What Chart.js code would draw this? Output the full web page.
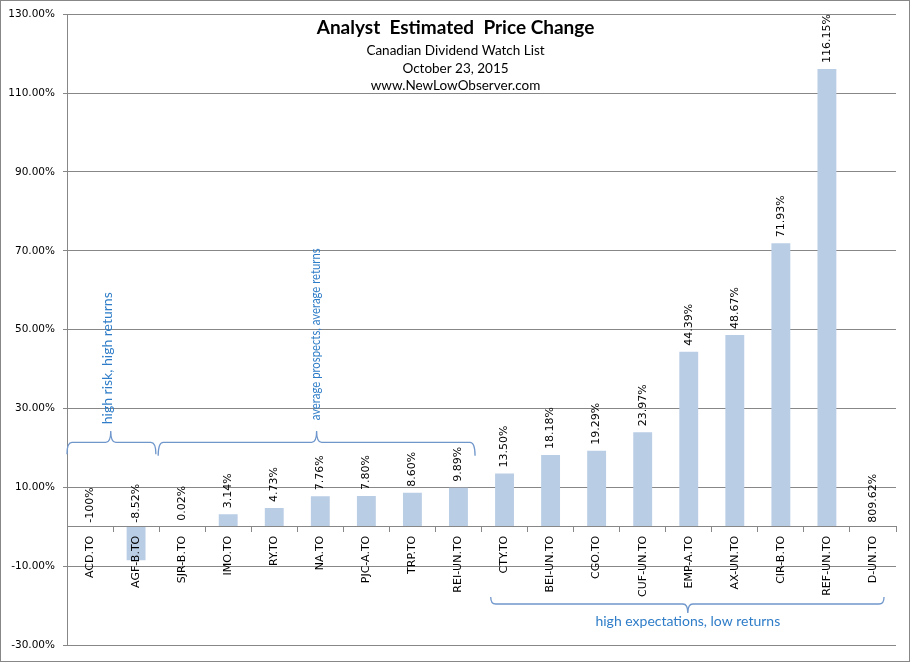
<!DOCTYPE html>
<html>
<head>
<meta charset="utf-8">
<script src="https://cdn.jsdelivr.net/npm/chart.js@4.4.0/dist/chart.umd.min.js"></script>
<style>
  html, body { margin: 0; padding: 0; background: #fff; }
</style>
</head>
<body>
<canvas id="myChart" width="911" height="662"></canvas>
<script>
const tickers = [
  "ACD.TO", "AGF-B.TO", "SJR-B.TO", "IMO.TO", "RY.TO", "NA.TO", "PJC-A.TO", "TRP.TO", "REI-UN.TO",
  "CTY.TO", "BEI-UN.TO", "CGO.TO", "CUF-UN.TO", "EMP-A.TO", "AX-UN.TO", "CIR-B.TO", "REF-UN.TO", "D-UN.TO",
];
// ACD.TO and D-UN.TO have no bar drawn in the original, only their label
const priceChange = [
  null, -8.52, 0.02, 3.14, 4.73, 7.76, 7.8, 8.6, 9.89,
  13.5, 18.18, 19.29, 23.97, 44.39, 48.67, 71.93, 116.15, null,
];
const valueLabels = [
  "-100%", "-8.52%", "0.02%", "3.14%", "4.73%", "7.76%", "7.80%", "8.60%", "9.89%",
  "13.50%", "18.18%", "19.29%", "23.97%", "44.39%", "48.67%", "71.93%", "116.15%", "809.62%",
];
const yMin = -30;
const yMax = 130;
const yStep = 20;

const titleLines = ["Canadian Dividend Watch List", "October 23, 2015", "www.NewLowObserver.com"];

const gridColor = "#878787";
const noteColor = "#2f7dc8";
const braceColor = "#7097cc";
const yFont = { family: "DejaVu Sans", size: 10.5 };
const xFont = { family: "DejaVu Sans", size: 11 };

// group braces, in category units (from/to/mid) and axis % units (line/end/tip/textAt)
const groups = [
  { text: "high risk, high returns", from: -0.5, to: 1.43, mid: 0.45, line: 21.4, end: 18.4, tip: 24.3, textAt: 26.0, shift: -3.7, fit: 132, vertical: true },
  { text: "average prospects, average returns", from: 1.48, to: 8.36, mid: 4.92, line: 21.4, end: 18.0, tip: 24.3, textAt: 27.0, shift: -0.7, fit: 172, vertical: true },
  { text: "high expectations, low returns", from: 8.7, to: 17.24, mid: 12.98, line: -19.6, end: -17.8, tip: -21.9, textAt: -25.2, shift: 0, fit: 190, vertical: false },
];

const drawBrace = (ctx, x0, x1, xm, yl, ye, yt) => {
  const r = 5;
  ctx.beginPath();
  ctx.moveTo(x0, ye);
  ctx.quadraticCurveTo(x0, yl, x0 + r, yl);
  ctx.lineTo(xm - r, yl);
  ctx.quadraticCurveTo(xm, yl, xm, yt);
  ctx.quadraticCurveTo(xm, yl, xm + r, yl);
  ctx.lineTo(x1 - r, yl);
  ctx.quadraticCurveTo(x1, yl, x1, ye);
  ctx.stroke();
};

const extras = {
  id: "extras",
  afterDraw(chart) {
    const { ctx, scales } = chart;
    const x = scales.x;
    const y = scales.y;
    const zeroY = y.getPixelForValue(0);

    // value labels, rotated
    ctx.save();
    ctx.fillStyle = "#000";
    ctx.font = xFont.size + "px " + xFont.family;
    ctx.textAlign = "left";
    ctx.textBaseline = "middle";
    valueLabels.forEach((txt, i) => {
      const v = priceChange[i];
      const px = x.getPixelForValue(i);
      const py = v !== null && v > 0 ? y.getPixelForValue(v) - 6 : zeroY - 4;
      ctx.save();
      ctx.translate(px, py);
      ctx.rotate(-Math.PI / 2);
      ctx.fillText(txt, 0, 0);
      ctx.restore();
    });
    ctx.restore();

    // braces and their notes
    ctx.save();
    ctx.strokeStyle = braceColor;
    ctx.lineWidth = 1.3;
    ctx.fillStyle = noteColor;
    const step = x.getPixelForValue(1) - x.getPixelForValue(0);
    const px = (v) => x.getPixelForValue(0) + v * step;
    groups.forEach((g) => {
      drawBrace(ctx, px(g.from), px(g.to), px(g.mid), y.getPixelForValue(g.line), y.getPixelForValue(g.end), y.getPixelForValue(g.tip));
      ctx.font = "14px Lato";
      if (g.vertical) {
        ctx.save();
        ctx.translate(px(g.mid) + g.shift, y.getPixelForValue(g.textAt));
        ctx.rotate(-Math.PI / 2);
        ctx.textAlign = "left";
        ctx.textBaseline = "middle";
        ctx.fillText(g.text, 0, 0, g.fit);
        ctx.restore();
      } else {
        ctx.textAlign = "center";
        ctx.textBaseline = "alphabetic";
        ctx.fillText(g.text, px(g.mid) + g.shift, y.getPixelForValue(g.textAt), g.fit);
      }
    });
    ctx.restore();

    // title block
    const cx = chart.width / 2;
    ctx.save();
    ctx.fillStyle = "#000";
    ctx.textAlign = "center";
    ctx.textBaseline = "alphabetic";
    ctx.font = "bold 19px Lato";
    ctx.fillText("Analyst  Estimated  Price Change", cx, 34);
    ctx.font = "13.5px Lato";
    titleLines.forEach((t, i) => ctx.fillText(t, cx, 55 + i * 17.5));
    ctx.restore();

    // outer frame
    ctx.save();
    ctx.strokeStyle = gridColor;
    ctx.lineWidth = 1;
    ctx.strokeRect(0.5, 0.5, chart.width - 2, chart.height - 1);
    ctx.restore();
  },
};

const chart = new Chart(document.getElementById("myChart"), {
  type: "bar",
  data: {
    labels: tickers,
    datasets: [
      {
        data: priceChange,
        backgroundColor: "#b9cde5",
        borderWidth: 0,
        categoryPercentage: 1,
        barPercentage: 0.41,
      },
    ],
  },
  options: {
    responsive: false,
    animation: false,
    layout: { padding: { left: 0, top: 14, right: 15, bottom: 17 } },
    plugins: {
      legend: { display: false },
      tooltip: { enabled: false },
    },
    scales: {
      x: {
        position: { y: 0 },
        grid: {
          display: true,
          drawOnChartArea: false,
          drawTicks: true,
          tickLength: 5,
          color: gridColor,
          offset: true,
        },
        border: { display: true, color: gridColor, z: 1 },
        ticks: {
          z: 1,
          autoSkip: false,
          maxRotation: 90,
          minRotation: 90,
          padding: 4,
          color: "#000",
          font: xFont,
        },
      },
      y: {
        min: yMin,
        max: yMax,
        grid: { color: gridColor, tickLength: 4 },
        border: { color: gridColor },
        ticks: {
          stepSize: yStep,
          padding: 8,
          color: "#000",
          font: yFont,
          callback: (v) => v.toFixed(2) + "%",
        },
        afterFit: (s) => {
          s.width = 67;
        },
      },
    },
  },
  plugins: [extras],
});
</script>
</body>
</html>
